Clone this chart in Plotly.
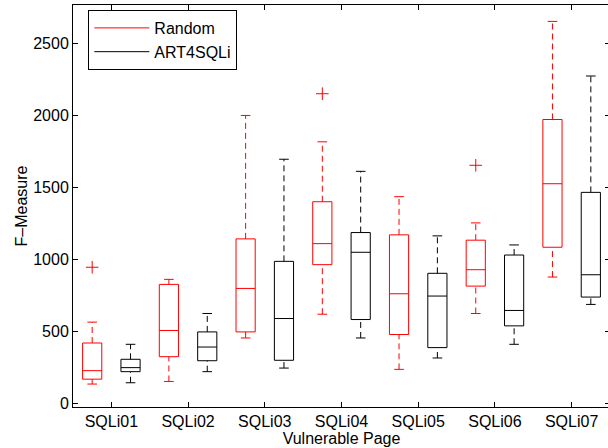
import plotly.graph_objects as go

categories = ["SQLi01", "SQLi02", "SQLi03", "SQLi04", "SQLi05", "SQLi06", "SQLi07"]

random_q1 = [169, 325, 497, 964, 479, 815, 1085]
random_med = [228, 507, 799, 1110, 762, 929, 1526]
random_q3 = [420, 827, 1143, 1401, 1171, 1134, 1972]
random_lo = [135, 153, 455, 620, 237, 625, 878]
random_hi = [565, 862, 2000, 1817, 1436, 1254, 2653]
random_out_cat = [0, 3, 5]
random_out_val = [946, 2151, 1654]

art_q1 = [221, 297, 300, 583, 388, 539, 739]
art_med = [249, 392, 590, 1050, 746, 646, 894]
art_q3 = [307, 497, 987, 1187, 904, 1031, 1466]
art_lo = [144, 221, 246, 455, 316, 411, 688]
art_hi = [411, 625, 1696, 1612, 1164, 1101, 2274]

y_ticks = [0, 500, 1000, 1500, 2000, 2500]

RED = "#ff0000"
BLACK = "#000000"
FONT = "Liberation Sans, Arial, Helvetica, sans-serif"
BOX_W = 0.5
CAP_W = 0.25

fig = go.Figure()


def add_series(name, color, offset, q1, med, q3, lo, hi, out_cat=None, out_val=None):
    xs = [2 * i + offset for i in range(len(categories))]
    fig.add_trace(go.Box(
        x=xs, q1=q1, median=med, q3=q3, lowerfence=q1, upperfence=q3,
        width=BOX_W, whiskerwidth=0, boxpoints=False,
        line=dict(color=color, width=1), fillcolor="rgba(0,0,0,0)",
        showlegend=False, hoverinfo="skip",
    ))
    wx, wy, cx, cy = [], [], [], []
    for x, a, b, c, d in zip(xs, q1, q3, lo, hi):
        wx += [x, x, None, x, x, None]
        wy += [b, d, None, c, a, None]
        cx += [x - CAP_W / 2, x + CAP_W / 2, None, x - CAP_W / 2, x + CAP_W / 2, None]
        cy += [d, d, None, c, c, None]
    fig.add_trace(go.Scatter(x=wx, y=wy, mode="lines",
                             line=dict(color=color, width=1, dash="6px,4px"),
                             showlegend=False, hoverinfo="skip"))
    fig.add_trace(go.Scatter(x=cx, y=cy, mode="lines",
                             line=dict(color=color, width=1),
                             showlegend=False, hoverinfo="skip"))
    if out_cat:
        fig.add_trace(go.Scatter(
            x=[2 * i + offset for i in out_cat], y=out_val, mode="markers",
            marker=dict(symbol="cross-thin", size=9, line=dict(color=color, width=1)),
            showlegend=False, hoverinfo="skip"))
    fig.add_trace(go.Scatter(x=[None], y=[None], mode="lines", name=name,
                             line=dict(color=color, width=1)))


add_series("Random", RED, 1, random_q1, random_med, random_q3, random_lo, random_hi,
           random_out_cat, random_out_val)
add_series("ART4SQLi", BLACK, 2, art_q1, art_med, art_q3, art_lo, art_hi)

yr = [-24.3, 2767]
fig.update_layout(
    width=610, height=448,
    margin=dict(l=73, r=0, t=5, b=41),
    paper_bgcolor="white", plot_bgcolor="white",
    font=dict(family=FONT, size=16, color="black"),
    boxmode="overlay",
    hovermode=False,
    showlegend=True,
    legend=dict(x=0.0286, y=0.9876, xanchor="left", yanchor="top",
                bordercolor="black", borderwidth=1, bgcolor="white",
                font=dict(family=FONT, size=16), itemwidth=55,
                tracegroupgap=0),
    xaxis=dict(range=[0.5, 14.5],
               tickvals=[2 * i + 1.5 for i in range(len(categories))],
               ticktext=categories, ticks="inside", ticklen=5, tickcolor="black",
               showline=True, linecolor="black", linewidth=1, mirror="ticks",
               showgrid=False, zeroline=False, showspikes=False,
               title=dict(text="Vulnerable Page", standoff=0,
                          font=dict(family=FONT, size=16))),
    yaxis=dict(range=yr, tickvals=y_ticks, ticks="inside", ticklen=5, tickcolor="black",
               showline=True, linecolor="black", linewidth=1, mirror="ticks",
               showgrid=False, zeroline=False, showspikes=False,
               title=dict(text="F\u2013Measure", standoff=1,
                          font=dict(family=FONT, size=16))),
)

fig.write_html("out.html",
               config={"displayModeBar": False, "staticPlot": True},
               post_script="document.body.style.margin='0';"
                           "document.body.style.overflow='hidden';")
